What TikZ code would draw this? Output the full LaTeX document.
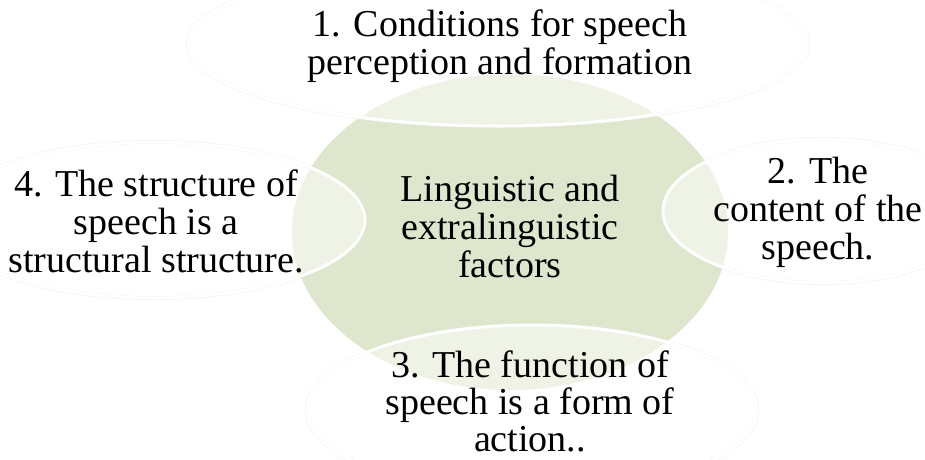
\documentclass[tikz,border=0pt]{standalone}
\usepackage{fontspec}
\setmainfont{Liberation Serif}
\definecolor{hubgreen}{RGB}{222,231,205}
\definecolor{ringgray}{RGB}{240,240,240}
\begin{document}
\begin{tikzpicture}[x=1pt,y=-1pt,
  ring/.style={draw=ringgray,line width=4pt},
  sat/.style={fill=white,fill opacity=0.5,draw=white,draw opacity=1,line width=3pt},
  lbl/.style={align=center,font=\fontsize{38}{38}\selectfont,inner sep=0pt,text=black}]
\fill[white] (0,0) rectangle (925,459);
\useasboundingbox (0,0) rectangle (925,459);
% faint outer rings of the satellites
\draw[ring] (498,44) ellipse [x radius=310pt,y radius=82pt];
\draw[ring] (822,211) ellipse [x radius=159pt,y radius=72pt];
\draw[ring] (532,410) ellipse [x radius=225pt,y radius=85pt];
\draw[ring] (154,220) ellipse [x radius=211pt,y radius=78pt];
% central hub
\fill[hubgreen] (510,232) ellipse [x radius=218pt,y radius=158pt];
% satellites
\path[sat] (498,44) ellipse [x radius=310pt,y radius=82pt];
\path[sat] (822,211) ellipse [x radius=159pt,y radius=72pt];
\path[sat] (532,410) ellipse [x radius=225pt,y radius=85pt];
\path[sat] (154,220) ellipse [x radius=211pt,y radius=78pt];
% texts
\node[lbl] (hub) at (510,226) {Linguistic and\\extralinguistic\\factors};
\node[lbl] (s1) at (500,46) {1. Conditions for speech\\perception and formation};
\node[lbl] (s2) at (818,212) {2. The\\content of the\\speech.};
\node[lbl,font=\fontsize{38}{37}\selectfont] (s3) at (530,401) {3. The function of\\speech is a form of\\action..};
\node[lbl] (s4) at (156,221) {4. The structure of\\speech is a\\structural structure.};
\end{tikzpicture}
\end{document}
